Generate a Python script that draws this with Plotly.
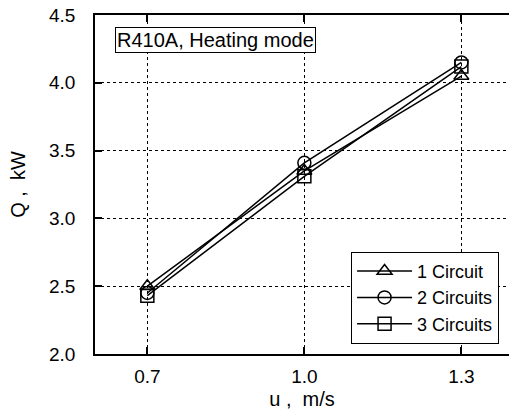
import plotly.graph_objects as go

u = [0.7, 1.0, 1.3]
q_1circuit = [2.50, 3.35, 4.05]
q_2circuits = [2.45, 3.41, 4.15]
q_3circuits = [2.43, 3.31, 4.12]
series_names = ["1 Circuit", "2 Circuits", "3 Circuits"]
symbols = ["triangle-up-open", "circle-open", "square-open"]
x_ticks = [0.7, 1.0, 1.3]
x_tick_labels = ["0.7", "1.0", "1.3"]
y_ticks = [2.0, 2.5, 3.0, 3.5, 4.0, 4.5]
y_tick_labels = ["2.0", "2.5", "3.0", "3.5", "4.0", "4.5"]

fig = go.Figure()
for name, ys, sym in zip(series_names, [q_1circuit, q_2circuits, q_3circuits], symbols):
    fig.add_trace(go.Scatter(
        x=u, y=ys, name=name, mode="lines+markers",
        line=dict(color="black", width=1.5),
        marker=dict(symbol=sym, size=13, color="black", line=dict(width=1.5, color="black")),
    ))

font = dict(family="Liberation Sans, Arial, sans-serif", size=19, color="black")
fig.update_layout(
    width=509, height=415,
    margin=dict(l=95, r=0, t=15, b=61),
    paper_bgcolor="white", plot_bgcolor="white",
    font=font,
    showlegend=True,
    legend=dict(x=0.976, y=0.03, xanchor="right", yanchor="bottom",
                bordercolor="black", borderwidth=1, bgcolor="white",
                font=dict(size=18), tracegroupgap=0, itemwidth=55),
    xaxis=dict(range=[0.6, 1.391], tickvals=x_ticks, ticktext=x_tick_labels,
               showline=True, linecolor="black", linewidth=1.5, mirror="ticks",
               ticks="inside", ticklen=7, tickcolor="black", tickwidth=1.5,
               showgrid=True, gridcolor="black", griddash="dot", gridwidth=1,
               zeroline=False, ticklabelstandoff=4,
               title=dict(text="u ,  m/s", standoff=6, font=dict(size=20))),
    yaxis=dict(range=[2.0, 4.5], tickvals=y_ticks, ticktext=y_tick_labels,
               showline=True, linecolor="black", linewidth=1.5, mirror=False,
               ticks="inside", ticklen=7, tickcolor="black", tickwidth=1.5,
               showgrid=True, gridcolor="black", griddash="dot", gridwidth=1,
               zeroline=False, ticklabelstandoff=14,
               title=dict(text="Q ,  kW", standoff=18, font=dict(size=20))),
    annotations=[dict(text="R410A, Heating mode", xref="paper", yref="paper",
                      x=0.048, y=0.966, xanchor="left", yanchor="top", showarrow=False,
                      bordercolor="black", borderwidth=1, borderpad=1, bgcolor="white",
                      font=dict(size=20))],
)
fig.write_html("out.html")
